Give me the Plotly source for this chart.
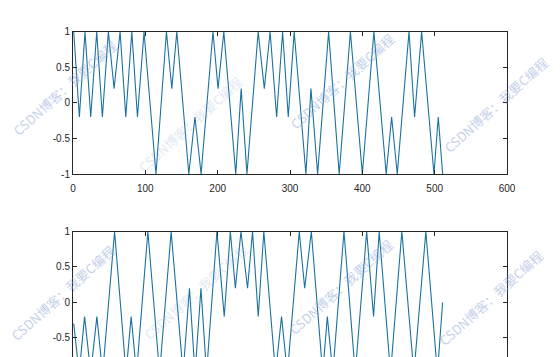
import plotly.graph_objects as go

# ---- data ----
top_x = [1, 8.8, 16.6, 24.5, 32.8, 40.6, 48.9, 56.8, 65.1, 73,
         81.3, 89.1, 98.2, 114.7, 129.2, 136.6, 143.5, 160.1, 168.6, 177.1,
         193.5, 200.5, 208.5, 225, 232.5, 240.5, 256, 264.5, 272.5, 281.5,
         289.8, 297.6, 305.8, 322, 329, 338.2, 353.4, 368, 383.5, 400,
         416, 433, 440.5, 448.3, 464.5, 472.2, 482, 499, 505, 511]
top_y = [1, -0.2, 1, -0.2, 1, -0.2, 1, 0.2, 1, -0.2,
         1, -0.2, 1, -1, 1, 0.2, 1, -1, -0.2, -1,
         1, 0.2, 1, -1, 0.2, -1, 1, 0.2, 1, -0.2,
         1, -0.2, 1, -1, 0.2, -1, 1, -1, 1, -1,
         1, -1, -0.2, -1, 1, -0.2, 1, -1, -0.2, -1]

bot_x = [1, 8.5, 16, 24.5, 33, 41, 57.5, 73.3, 80.4, 87.8,
         103.5, 119.7, 135.7, 152.2, 161, 168.7, 176.9, 184.6, 199, 209.1,
         217.5, 224.5, 232.2, 241.3, 248.2, 256.1, 263.8, 280, 288.3, 296.4,
         312.8, 320.3, 329.5, 345.2, 351.6, 359.2, 374.6, 390.2, 406, 415.5,
         423.3, 439, 454.6, 471.3, 487.8, 503.8, 511]
bot_y = [-0.3, -1, -0.2, -1, -0.2, -1, 1, -1, -0.2, -1,
         1, -1, 1, -1, 0.2, -1, 0.2, -1, 1, -0.2,
         1, 0.2, 1, 0.2, 1, -0.2, 1, -1, -0.2, -1,
         1, 0.2, 1, -1, -0.2, -1, 1, -1, 1, -0.2,
         1, -1, 1, -1, 1, -1, 0]

x_ticks = [0, 100, 200, 300, 400, 500, 600]
y_ticks = [-1, -0.5, 0, 0.5, 1]
y_tick_text = ["-1", "-0.5", "0", "0.5", "1"]

watermark = "CSDN博客：我要C编程"

# ---- figure ----
W, H = 560, 357
LINE = "#1b72a0"
AX = "#262626"
FONT = dict(family="Liberation Sans, Arial, sans-serif", size=10, color=AX)

fig = go.Figure()
fig.add_trace(go.Scatter(x=top_x, y=top_y, mode="lines",
                         line=dict(color=LINE, width=1.1),
                         xaxis="x", yaxis="y", showlegend=False, hoverinfo="skip"))
fig.add_trace(go.Scatter(x=bot_x, y=bot_y, mode="lines",
                         line=dict(color=LINE, width=1.1),
                         xaxis="x2", yaxis="y2", showlegend=False, hoverinfo="skip"))

xdom = [73 / W, 507 / W]
top_dom = [1 - 174 / H, 1 - 31.7 / H]
bot_dom = [0, 1 - 231.5 / H]

common_ax = dict(showline=True, linecolor=AX, linewidth=1, ticks="inside",
                 ticklen=4, tickcolor=AX, tickwidth=1, showgrid=False,
                 zeroline=False, tickfont=FONT, automargin=False)

fig.update_layout(
    width=W, height=H,
    margin=dict(l=0, r=0, t=0, b=0, pad=0),
    paper_bgcolor="white", plot_bgcolor="white",
    template="none",
    xaxis=dict(domain=xdom, range=[0, 600], tickvals=x_ticks, anchor="y",
               mirror="ticks", ticklabelstandoff=5, **common_ax),
    yaxis=dict(domain=top_dom, range=[-1, 1], tickvals=y_ticks,
               ticktext=y_tick_text, anchor="x", mirror="ticks", **common_ax),
    xaxis2=dict(domain=xdom, range=[0, 600], tickvals=x_ticks, anchor="y2",
                side="top", showticklabels=False, **common_ax),
    yaxis2=dict(domain=bot_dom, range=[-0.77, 1], tickvals=y_ticks,
                ticktext=y_tick_text, anchor="x2", mirror="ticks", **common_ax),
)

# faint watermarks (px centers)
wm_pos = [(64, 88, 0.5), (342, 82, 0.5), (495, 105, 0.5),
          (62, 293, 0.5), (340, 287, 0.5), (490, 298, 0.5),
          (190, 125, 0.25), (195, 292, 0.25)]
for px, py, op in wm_pos:
    fig.add_annotation(x=px / W, y=1 - py / H, xref="paper", yref="paper",
                       xanchor="center", yanchor="middle",
                       text=watermark, showarrow=False, textangle=-42,
                       font=dict(family="Noto Sans CJK SC", size=13,
                                 color="rgba(140,165,215,1)"),
                       opacity=op)

fig.write_html("out.html")
